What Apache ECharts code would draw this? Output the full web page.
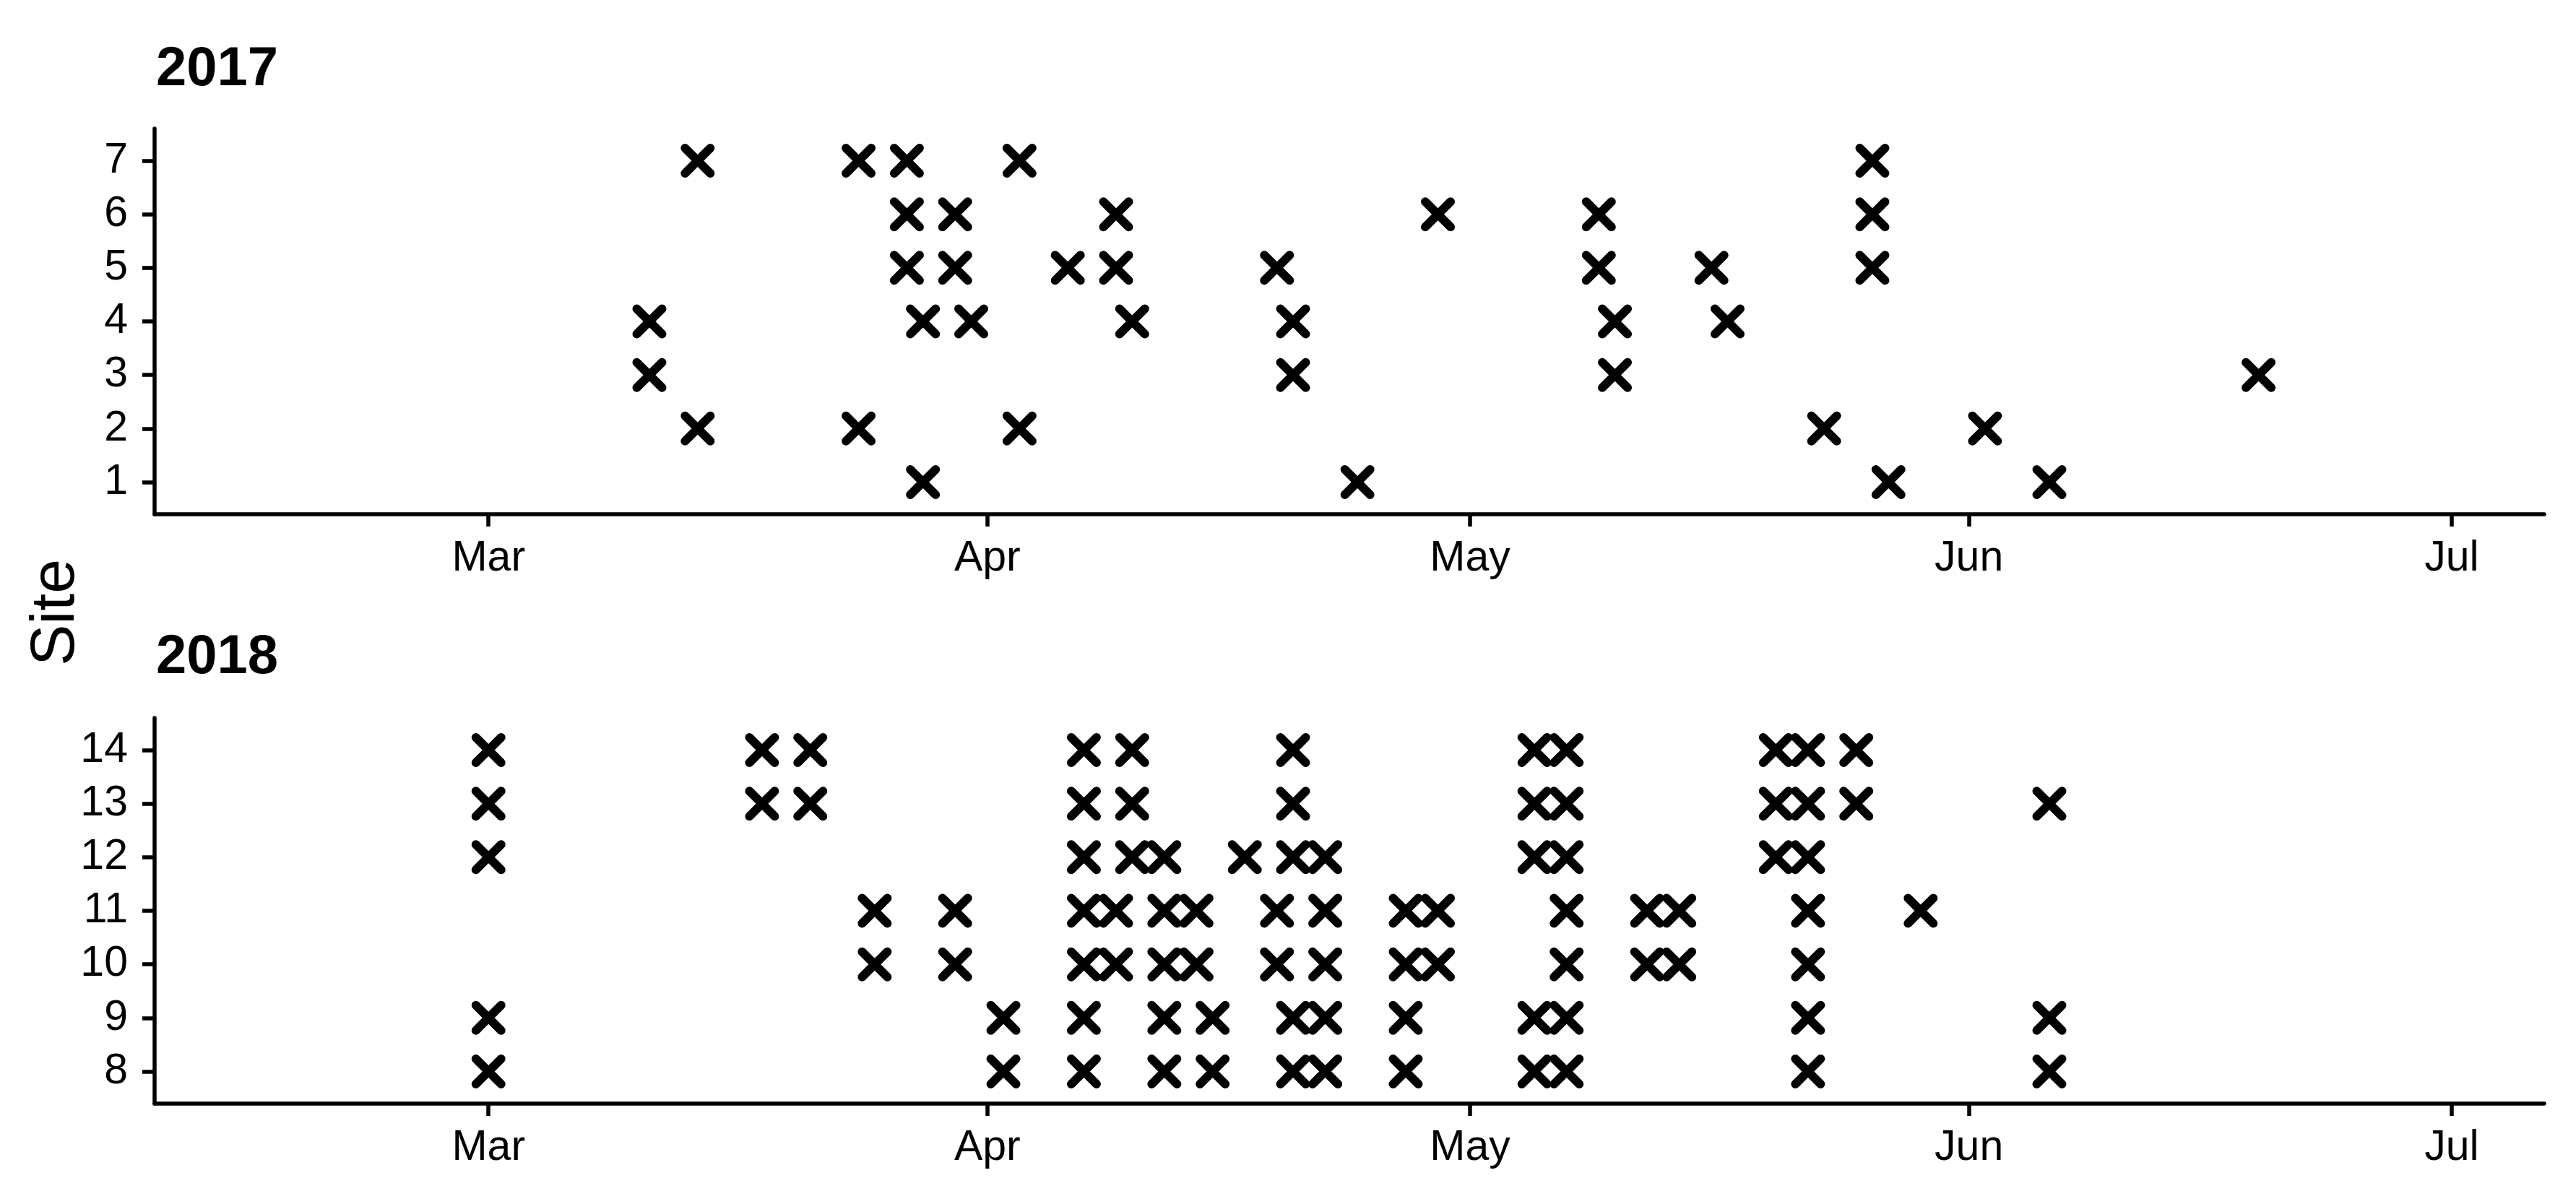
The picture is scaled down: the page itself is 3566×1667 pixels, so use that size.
<!DOCTYPE html>
<html>
<head>
<meta charset="utf-8">
<script src="https://cdn.jsdelivr.net/npm/echarts@6/dist/echarts.min.js"></script>
<style>
html,body{margin:0;padding:0;background:#fff;}
#main{width:3566px;height:1667px;}
</style>
</head>
<body>
<div id="main"></div>
<script>
// sampling dates (month-day) and the sites hit on each date
var dates2017 = ['03-11','03-14','03-24','03-27','03-28','03-30','03-31','04-03','04-06','04-09','04-10','04-19','04-20','04-24','04-29','05-09','05-10','05-16','05-17','05-23','05-26','05-27','06-02','06-06','06-19'];
var sites2017 = [[4,3],[7,2],[7,2],[7,6,5],[4,1],[6,5],[4],[7,2],[5],[6,5],[4],[5],[4,3],[1],[6],[6,5],[4,3],[5],[4],[2],[7,6,5],[1],[2],[1],[3]];

var dates2018 = ['03-01','03-18','03-21','03-25','03-30','04-02','04-07','04-09','04-10','04-12','04-14','04-15','04-17','04-19','04-20','04-22','04-27','04-29','05-05','05-07','05-12','05-14','05-20','05-22','05-25','05-29','06-06'];
var sites2018 = [[14,13,12,9,8],[14,13],[14,13],[11,10],[11,10],[9,8],[14,13,12,11,10,9,8],[11,10],[14,13,12],[12,11,10,9,8],[11,10],[9,8],[12],[11,10],[14,13,12,9,8],[12,11,10,9,8],[11,10,9,8],[11,10],[14,13,12,9,8],[14,13,12,11,10,9,8],[11,10],[11,10],[14,13,12],[14,13,12,11,10,9,8],[14,13],[11],[13,9,8]];

var monthTicks = ['03-01','04-01','05-01','06-01','07-01'];
var monthLabels = ['Mar','Apr','May','Jun','Jul'];
var siteTicks2017 = [1,2,3,4,5,6,7];
var siteTicks2018 = [8,9,10,11,12,13,14];

// day of year, Jan 1 = 0
function dayOf(md){
	var p = md.split('-');
	return (Date.UTC(2018, +p[0]-1, +p[1]) - Date.UTC(2018,0,1)) / 86400000;
}
function toPoints(dates, sites){
	var out = [];
	for(var i = 0;i < dates.length;i ++){
		for(var j = 0;j < sites[i].length;j ++){
			out.push([dayOf(dates[i]), sites[i][j]]);
		}
	}
	return out;
}

var FONT = '"Liberation Sans", Arial, sans-serif';
var tickDays = monthTicks.map(dayOf);
var xMin = dayOf('02-15') - 6.75;
var xMax = dayOf('06-30') + 6.75;

function xAxisFor(idx){
	return {
		type:'value', gridIndex:idx, min:xMin, max:xMax,
		splitLine:{show:false},
		axisLine:{onZero:false, lineStyle:{color:'#000', width:5.5}},
		axisTick:{customValues:tickDays, length:17, lineStyle:{color:'#000', width:5.5}},
		axisLabel:{
			customValues:tickDays, margin:32, color:'#000', fontSize:59, fontFamily:FONT,
			formatter:function(v){ return monthLabels[tickDays.indexOf(v)]; }
		}
	};
}
function yAxisFor(idx, ticks){
	return {
		type:'value', gridIndex:idx,
		min:ticks[0]-0.6, max:ticks[ticks.length-1]+0.6,
		splitLine:{show:false},
		axisLine:{lineStyle:{color:'#000', width:5.5}},
		axisTick:{customValues:ticks, length:17, lineStyle:{color:'#000', width:5.5}},
		axisLabel:{customValues:ticks, margin:37, color:'#000', fontSize:59, fontFamily:FONT}
	};
}

var markStyle = {
	symbol:'path://M0,0L10,10M10,0L0,10',
	symbolSize:35,
	itemStyle:{color:'transparent', borderColor:'#000', borderWidth:12, borderCap:'round', opacity:1}
};

var chart = echarts.init(document.getElementById('main'));
chart.setOption({
	backgroundColor:'#fff',
	animation:false,
	grid:[
		{left:214, right:44, top:178, height:534, outerBoundsMode:'none'},
		{left:214, right:44, top:994, height:534, outerBoundsMode:'none'}
	],
	xAxis:[xAxisFor(0), xAxisFor(1)],
	yAxis:[yAxisFor(0, siteTicks2017), yAxisFor(1, siteTicks2018)],
	graphic:[
		{type:'text', x:216, y:97, style:{text:'2017', font:'bold 76px ' + FONT, fill:'#000', align:'left', verticalAlign:'middle'}},
		{type:'text', x:216, y:911, style:{text:'2018', font:'bold 76px ' + FONT, fill:'#000', align:'left', verticalAlign:'middle'}},
		{type:'text', x:78, y:848, rotation:Math.PI/2, style:{text:'Site', font:'86px ' + FONT, fill:'#000', align:'center', verticalAlign:'middle'}}
	],
	series:[
		Object.assign({type:'scatter', xAxisIndex:0, yAxisIndex:0, silent:true, data:toPoints(dates2017, sites2017)}, markStyle),
		Object.assign({type:'scatter', xAxisIndex:1, yAxisIndex:1, silent:true, data:toPoints(dates2018, sites2018)}, markStyle)
	]
});
</script>
</body>
</html>
